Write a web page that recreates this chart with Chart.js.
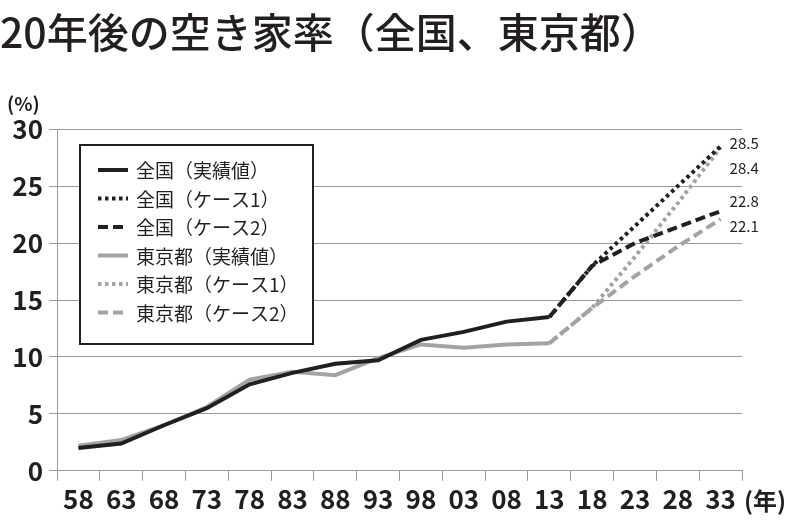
<!DOCTYPE html>
<html>
<head>
<meta charset="utf-8">
<script src="https://cdn.jsdelivr.net/npm/chart.js@4/dist/chart.umd.min.js"></script>
<style>
    html, body { margin: 0; padding: 0; background: #fff; }
    #chart_side { width: 800px; height: 524px; }
</style>
</head>
<body>
<div id="chart_side"><canvas id="myChart"></canvas></div>
<script>

//x axis categories (two-digit years)
const years = ["58", "63", "68", "73", "78", "83", "88", "93", "98", "03", "08", "13", "18", "23", "28", "33"];

//actual values (%) up to 2013
const nationalActual = [2.0, 2.4, 4.0, 5.5, 7.6, 8.6, 9.4, 9.7, 11.5, 12.2, 13.1, 13.5, null, null, null, null];
const tokyoActual = [2.2, 2.7, 4.0, 5.6, 8.0, 8.7, 8.4, 9.9, 11.1, 10.8, 11.1, 11.2, null, null, null, null];

//projections from 2013
const nationalCase1 = [null, null, null, null, null, null, null, null, null, null, null, 13.5, 18.0, 21.5, 25.0, 28.5];
const nationalCase2 = [null, null, null, null, null, null, null, null, null, null, null, 13.5, 18.0, 20.0, 21.4, 22.8];
const tokyoCase1 = [null, null, null, null, null, null, null, null, null, null, null, 11.2, 14.3, 18.8, 23.5, 28.4];
const tokyoCase2 = [null, null, null, null, null, null, null, null, null, null, null, 11.2, 14.3, 17.1, 19.7, 22.1];

const yTicks = [0, 5, 10, 15, 20, 25, 30];

const BLACK = "#231f20";
const GRAY = "#a3a3a3";
const GRID = "#9a9a9a";
const FONT = "'Noto Sans CJK JP', 'Noto Sans', sans-serif";

function line(label, data, color, dash, endLabel, endOffset) {
    return {
        label: label,
        data: data,
        borderColor: color,
        backgroundColor: color,
        borderWidth: 4,
        borderDash: dash,
        borderCapStyle: "butt",
        borderJoinStyle: "miter",
        pointRadius: 0,
        tension: 0,
        spanGaps: false,
        endLabel: endLabel,
        endOffset: endOffset
    };
}

//draws the boxed legend inside the plot and the axis captions
const decorations = {
    id: "decorations",
    afterDatasetsDraw: function (chart) {
        const ctx = chart.ctx;
        const sets = chart.data.datasets;

        ctx.save();

        //value labels at the end of projection lines
        ctx.font = "15px " + FONT;
        ctx.fillStyle = BLACK;
        ctx.textAlign = "left";
        ctx.textBaseline = "middle";
        sets.forEach(function (ds, i) {
            if (!ds.endLabel) return;
            const meta = chart.getDatasetMeta(i);
            const last = meta.data[meta.data.length - 1];
            const value = ds.data[ds.data.length - 1];
            ctx.fillText(value.toFixed(1), last.x + 9, last.y + ds.endOffset);
        });

        //legend box
        const bx = 80, by = 145, bw = 233, bh = 199;
        ctx.fillStyle = "#fff";
        ctx.fillRect(bx, by, bw, bh);
        ctx.lineWidth = 2;
        ctx.strokeStyle = BLACK;
        ctx.setLineDash([]);
        ctx.strokeRect(bx, by, bw, bh);

        ctx.font = "19px " + FONT;
        sets.forEach(function (ds, i) {
            const y = 170 + i * 28.5;
            ctx.beginPath();
            ctx.lineWidth = 4;
            ctx.lineCap = "butt";
            ctx.strokeStyle = ds.borderColor;
            ctx.setLineDash(ds.borderDash || []);
            ctx.moveTo(98, y);
            ctx.lineTo(128, y);
            ctx.stroke();
            ctx.setLineDash([]);
            ctx.fillStyle = BLACK;
            ctx.fillText(ds.label, 136, y + 1);
        });

        //axis captions
        ctx.font = "bold 19px " + FONT;
        ctx.fillStyle = BLACK;
        ctx.textAlign = "left";
        ctx.fillText("(%)", 7, 104);
        ctx.font = "bold 24px " + FONT;
        ctx.fillText("(年)", 744, 501);

        ctx.restore();
    }
};

function drawChart() {

    const ctx = document.getElementById("myChart").getContext("2d");

    const chart = new Chart(ctx, {
        type: "line",
        data: {
            labels: years,
            datasets: [
                line("全国（実績値）", nationalActual, BLACK, [], false, 0),
                line("全国（ケース1）", nationalCase1, BLACK, [3.5, 3.5], true, -3),
                line("全国（ケース2）", nationalCase2, BLACK, [10, 5], true, -10),
                line("東京都（実績値）", tokyoActual, GRAY, [], false, 0),
                line("東京都（ケース1）", tokyoCase1, GRAY, [3.5, 3.5], true, 21),
                line("東京都（ケース2）", tokyoCase2, GRAY, [10, 5], true, 7)
            ]
        },
        options: {
            responsive: true,
            maintainAspectRatio: false,
            animation: false,
            layout: {
                padding: {left: 0, right: 58, top: 0, bottom: 6}
            },
            plugins: {
                legend: {display: false},
                tooltip: {enabled: false},
                title: {
                    display: true,
                    text: "20年後の空き家率（全国、東京都）",
                    align: "start",
                    color: BLACK,
                    font: {family: FONT, size: 41, weight: "500"},
                    padding: {top: 8, bottom: 72}
                }
            },
            scales: {
                x: {
                    type: "category",
                    offset: true,
                    grid: {
                        offset: true,
                        drawOnChartArea: false,
                        drawTicks: true,
                        tickLength: 10,
                        color: GRID,
                        lineWidth: 1
                    },
                    border: {color: GRID, width: 1},
                    ticks: {
                        color: BLACK,
                        padding: 3,
                        maxRotation: 0,
                        autoSkip: false,
                        font: {family: FONT, size: 26, weight: "bold"}
                    }
                },
                y: {
                    min: 0,
                    max: 30,
                    afterBuildTicks: function (scale) {
                        scale.ticks = yTicks.map(function (v) { return {value: v}; });
                    },
                    afterFit: function (scale) {
                        scale.width = 57;
                    },
                    grid: {
                        color: GRID,
                        lineWidth: 1,
                        tickLength: 8
                    },
                    border: {color: GRID, width: 1},
                    ticks: {
                        color: BLACK,
                        padding: 6,
                        font: {family: FONT, size: 26, weight: "bold"}
                    }
                }
            }
        },
        plugins: [decorations]
    });
}

drawChart();
</script>
</body>
</html>
